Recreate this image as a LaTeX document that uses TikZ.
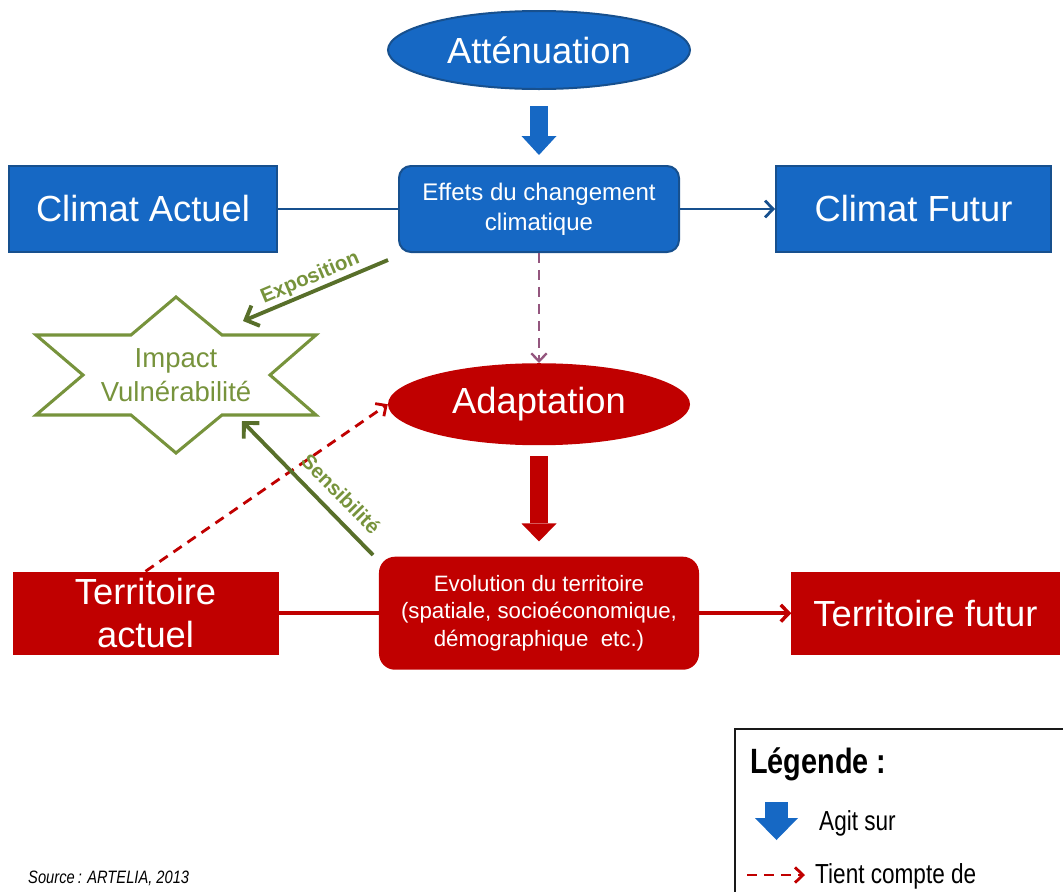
\documentclass[tikz,border=0pt]{standalone}
\usepackage{fontspec}
\setmainfont{Liberation Sans}
\newfontfamily\narrowfont[FakeStretch=0.82]{Liberation Sans}
\usetikzlibrary{positioning,shapes.geometric,arrows.meta}

\definecolor{climblue}{HTML}{1668C4}
\definecolor{climborder}{HTML}{17508E}
\definecolor{terrred}{HTML}{C00000}
\definecolor{impgreen}{HTML}{77933C}
\definecolor{arrgreen}{HTML}{586F2A}
\definecolor{mixdash}{HTML}{94567E}

\begin{document}
\begin{tikzpicture}[x=0.03cm,y=-0.03cm,
	bigtext/.style={font=\fontsize{31}{36.5}\selectfont,text=white,align=center,inner sep=0pt},
	climbox/.style={rectangle,fill=climblue,draw=climborder,line width=1.7pt,minimum height=2.58cm,bigtext},
	climround/.style={rectangle,rounded corners=0.36cm,fill=climblue,draw=climborder,line width=1.7pt,minimum width=8.4cm,minimum height=2.58cm,text=white,align=center,font=\fontsize{20.5}{25.5}\selectfont},
	climellipse/.style={ellipse,fill=climblue,draw=climborder,line width=1.7pt,minimum width=9.06cm,minimum height=2.34cm,bigtext},
	terrbox/.style={rectangle,fill=terrred,minimum width=7.98cm,minimum height=2.5cm,bigtext},
	terrround/.style={rectangle,rounded corners=0.48cm,fill=terrred,minimum width=9.6cm,minimum height=3.39cm,text=white,align=center,font=\fontsize{19}{23.4}\selectfont},
	adaptellipse/.style={ellipse,fill=terrred,minimum width=9.06cm,minimum height=2.46cm,bigtext},
	impactstar/.style={draw=impgreen,line width=2.6pt,line join=miter},
	climline/.style={draw=climborder,line width=2.4pt},
	terrline/.style={draw=terrred,line width=3pt},
	linetip/.style={-{Straight Barb[length=0.24cm 0,width=0.5cm 0]}},
	dashlink/.style={line width=2.4pt,dash pattern=on 8.5pt off 6pt,-{Straight Barb[length=0.24cm 0,width=0.46cm 0]}},
	agitblue/.style={draw=climblue,line width=0.54cm,-{Triangle[length=0.57cm 0,width=1.05cm 0,line width=0pt 0]}},
	agitred/.style={draw=terrred,line width=0.54cm,-{Triangle[length=0.54cm 0,width=1.05cm 0,line width=0pt 0]}},
	greenarrow/.style={draw=arrgreen,line width=3.3pt,-{Straight Barb[length=0.33cm 0,width=0.66cm 0]}},
	greenlabel/.style={text=impgreen,font=\fontsize{17.5}{20}\selectfont\bfseries,inner sep=1.5pt},
	legendtext/.style={anchor=base west,inner sep=0pt,font=\narrowfont\fontsize{23.5}{28}\selectfont}]
	\useasboundingbox (0,0) rectangle (1063,891);

	% climat
	\node[climround]														(effets)		at (539,209)	{Effets du changement\\climatique};
	\node[climellipse,above=2.25cm of effets]								(attenuation)	{Atténuation};
	\node[climbox,minimum width=8.04cm,left=3.6cm of effets]				(climatA)		{Climat Actuel};
	\node[climbox,minimum width=8.25cm,right=2.85cm of effets]				(climatF)		{Climat Futur};

	% territoire
	\node[adaptellipse,below=3.3cm of effets]								(adaptation)	{Adaptation};
	\node[terrround,below=3.33cm of adaptation]							(evolution)		{Evolution du territoire\\(spatiale, socioéconomique,\\démographique~ etc.)};
	\node[terrbox,left=3cm of evolution]									(territoireA)	{Territoire\\actuel};
	\node[terrbox,minimum width=8.04cm,right=2.76cm of evolution]			(territoireF)	{Territoire futur};

	% impact
	\node[text=impgreen,align=center,font=\fontsize{23.5}{29}\selectfont]	(impact)		at (176,375)	{Impact\\Vulnérabilité};
	\draw[impactstar] (176,297) -- (222,335) -- (316,335) -- (270,375) -- (316,415) -- (222,415) -- (176,453)
		-- (131,415) -- (36,415) -- (83,375) -- (36,335) -- (131,335) -- cycle;
	\coordinate (expoStart)	at (388,260);
	\coordinate (expoEnd)	at (243,321);
	\coordinate (sensStart)	at (373,555);
	\coordinate (sensEnd)	at (242,421);

	\draw[agitblue,shorten <=0.48cm,shorten >=0.3cm] (attenuation) -- (effets);
	\draw[climline] (climatA) -- (effets);
	\draw[climline,linetip] (effets) -- (climatF);
	\draw[dashlink,draw=mixdash,line width=2pt] (effets) -- (adaptation);
	\draw[agitred,shorten <=0.33cm,shorten >=0.45cm] (adaptation) -- (evolution);
	\draw[terrline] (territoireA) -- (evolution);
	\draw[terrline,linetip] (evolution) -- (territoireF);
	\draw[dashlink,draw=terrred] (territoireA.north) -- (adaptation.west);
	\draw[greenarrow] (expoStart) -- node[greenlabel,midway,sloped,above] {Exposition} (expoEnd);
	\draw[greenarrow] (sensStart) -- (sensEnd);
	\node[greenlabel,rotate=-45.5]											(sensLabel)		at (341,494)	{Sensibilité};

	% legende
	\draw[line width=1.7pt,draw=black!90] (735,729) rectangle (1075,900);
	\node[legendtext,font=\narrowfont\bfseries\fontsize{30}{36}\selectfont]	(legendTitle)	at (750,773)	{Légende :};
	\coordinate (agitTop)	at (776.5,802);
	\coordinate (agitTip)	at (776.5,840);
	\draw[draw=climblue,line width=0.69cm,-{Triangle[length=0.66cm 0,width=1.29cm 0,line width=0pt 0]}] (agitTop) -- (agitTip);
	\node[legendtext]														(agitText)		at (819,830)	{Agit sur};
	\coordinate (tientStart)	at (747,875);
	\coordinate (tientEnd)		at (805,875);
	\draw[dashlink,draw=terrred] (tientStart) -- (tientEnd);
	\node[legendtext]														(tientText)		at (815,883)	{Tient compte de};

	\node[anchor=base west,inner sep=0pt,font=\narrowfont\itshape\fontsize{15.3}{18}\selectfont]	(source)	at (28,883)	{Source\,: ARTELIA, 2013};
\end{tikzpicture}
\end{document}
